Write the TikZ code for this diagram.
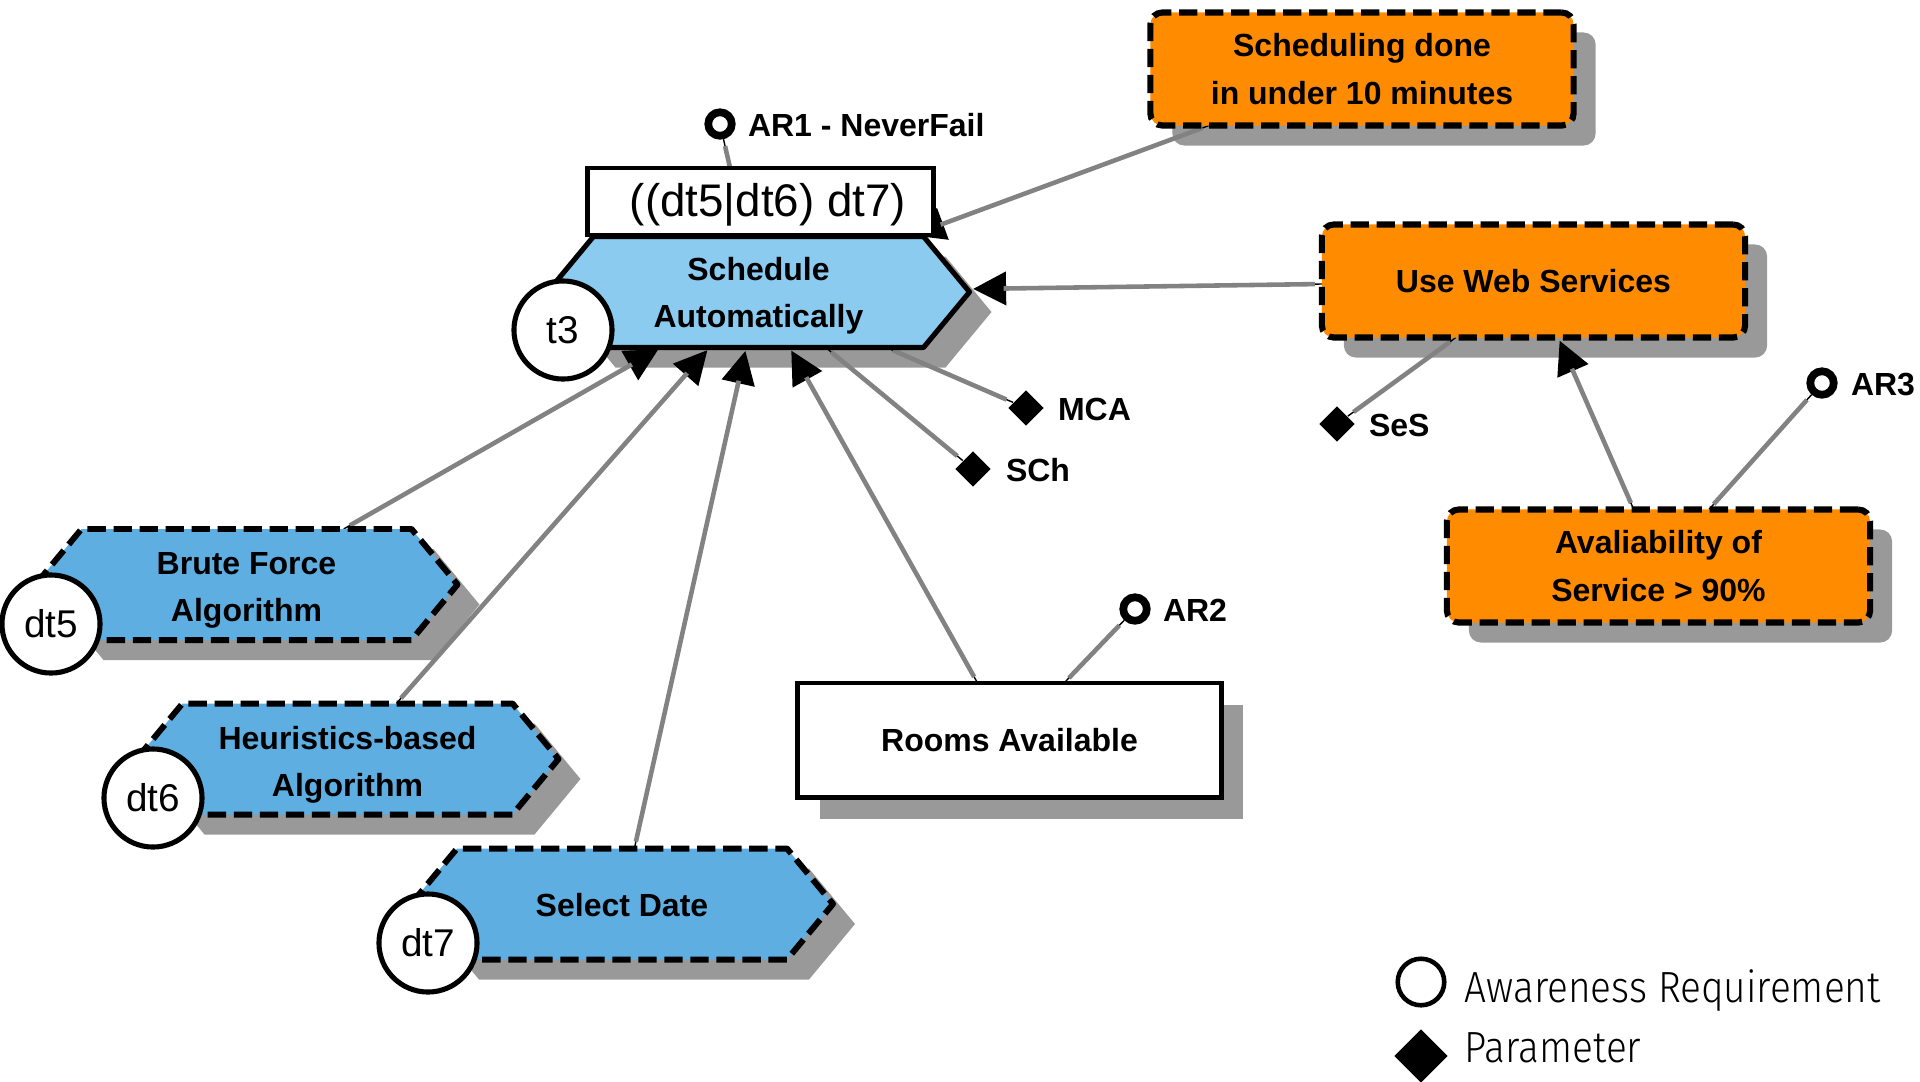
\documentclass[tikz,border=0pt]{standalone}
\usepackage{fontspec}
\setmainfont{Liberation Sans}
\IfFontExistsTF{Fira Sans Light}
  {\newfontfamily\legendfont{Fira Sans Light}[FakeStretch=0.89]}
  {\newfontfamily\legendfont{Fira Sans}[FakeStretch=0.89]}
\usetikzlibrary{shapes.geometric, arrows.meta}

\pgfdeclarelayer{shadow}
\pgfdeclarelayer{links}
\pgfdeclarelayer{shapes}
\pgfsetlayers{shadow,links,shapes,main}

\definecolor{taskblue}{RGB}{139,203,240}
\definecolor{dtblue}{RGB}{94,174,226}
\definecolor{goalorange}{RGB}{255,140,0}
\definecolor{shadowgray}{RGB}{153,153,153}
\definecolor{linkgray}{RGB}{130,130,130}

% horizontal hexagon (task shape) around a point, 422 x 111 units, 46 units deep tips
\newcommand\hexpath[1]{(#1) ++(-211,0) -- ++(46,-55.5) -- ++(330,0) -- ++(46,55.5) -- ++(-46,55.5) -- ++(-330,0) -- cycle}

\tikzset{
  txt/.style={font=\fontsize{9.1}{13.4}\selectfont\bfseries, align=center, inner sep=0pt, outer sep=0pt},
  softgoal/.style={txt, draw=black, line width=1.75pt, dash pattern=on 5.2pt off 2.2pt,
    fill=goalorange, rounded corners=0.12cm, minimum width=4.23cm, minimum height=1.13cm},
  plainbox/.style={txt, draw=black, line width=1.4pt, fill=white, minimum width=4.23cm, minimum height=1.14cm},
  formula/.style={draw=black, line width=1.4pt, fill=white, inner sep=0pt, outer sep=0pt,
    minimum width=3.45cm, minimum height=0.67cm},
  formulatext/.style={inner sep=0pt, font=\fontsize{13}{13}\selectfont},
  hexnode/.style={inner sep=0pt, outer sep=0pt, minimum width=4.22cm, minimum height=1.11cm},
  tasklook/.style={fill=taskblue, draw=black, line width=1.45pt, line join=round},
  dtlook/.style={fill=dtblue, draw=black, line width=1.7pt, line join=round, dash pattern=on 5.2pt off 2.2pt},
  tagcircle/.style={circle, draw=black, line width=1.45pt, fill=white, minimum size=0.98cm,
    inner sep=0pt, font=\fontsize{11}{11}\selectfont},
  arcircle/.style={circle, draw=black, line width=2.2pt, fill=white, minimum size=0.235cm, inner sep=0pt},
  param/.style={diamond, fill=black, minimum width=0.36cm, minimum height=0.36cm, inner sep=0pt},
  tag/.style={txt, anchor=west},
  legendtxt/.style={anchor=base west, inner sep=0pt, font=\legendfont\fontsize{12.4}{12.4}\selectfont},
  link/.style={draw=linkgray, line width=1.3pt, shorten <=0.07cm, shorten >=0.07cm,
    preaction={draw=black, shorten <=0pt, shorten >=0pt}},
  arrowlink/.style={draw=linkgray, line width=1.3pt, shorten <=0.07cm, shorten >=0.34cm,
    preaction={draw=black, shorten <=0pt, shorten >=0pt, -{Triangle[length=0.38cm,width=0.38cm]}}},
}

\begin{document}
\begin{tikzpicture}[x=0.01cm, y=-0.01cm]
\useasboundingbox (0,0) rectangle (1920,1081);

% tasks: outline frames (hexagons drawn on the shapes layer) and their texts
\node[hexnode] (sa) at (758.5,292) {};
\node[hexnode] (bf) at (246.5,584.5) {};
\node[hexnode] (hb) at (347.5,759) {};
\node[hexnode] (sd) at (622,904) {};
\node[txt] (satext) at (758.5,296) {Schedule\\Automatically};
\node[txt] (bftext) at (246.5,590) {Brute Force\\Algorithm};
\node[txt] (hbtext) at (347.5,765) {Heuristics-based\\Algorithm};
\node[txt] (sdtext) at (622,905.5) {Select Date};

% decomposition formula
\node[formula] (rx) at (760.5,201.5) {};
\node[formulatext] (rxtext) at (768,205) {((dt5|dt6) dt7)};

% task identifiers
\node[tagcircle] (t3) at (563,330) {t3};
\node[tagcircle] (dt5) at (51,624) {dt5};
\node[tagcircle] (dt6) at (153,798) {dt6};
\node[tagcircle] (dt7) at (428,943) {dt7};

% soft goals
\node[softgoal] (sdone) at (1362,69) {Scheduling done\\in under 10 minutes};
\node[softgoal] (uws) at (1533.5,281) {Use Web Services};
\node[softgoal] (avail) at (1658.5,566) {Avaliability of\\Service > 90\%};

% domain assumption
\node[plainbox] (rooms) at (1009.5,740) {Rooms Available};

% awareness requirements
\node[arcircle] (ar1) at (720,124) {};
\node[tag] (ar1l) at (748,125) {AR1 - NeverFail};
\node[arcircle] (ar2) at (1135,609) {};
\node[tag] (ar2l) at (1163,610) {AR2};
\node[arcircle] (ar3) at (1822,383) {};
\node[tag] (ar3l) at (1851,384) {AR3};

% parameters
\node[param] (mca) at (1026,408) {};
\node[tag] (mcal) at (1058,409) {MCA};
\node[param] (sch) at (973,469) {};
\node[tag] (schl) at (1006,470) {SCh};
\node[param] (ses) at (1337,424) {};
\node[tag] (sesl) at (1369,425) {SeS};

% legend
\node[arcircle, line width=1.3pt, minimum size=0.465cm] (lgar) at (1421,982) {};
\node[legendtxt] (lgarl) at (1464,1002) {Awareness Requirement};
\node[param, minimum width=0.54cm, minimum height=0.54cm] (lgpar) at (1421,1056) {};
\node[legendtxt] (lgparl) at (1464,1062) {Parameter};

% drop shadows
\begin{pgfonlayer}{shadow}
  \fill[shadowgray] \hexpath{[shift={(22,20)}]sa.center};
  \fill[shadowgray] \hexpath{[shift={(22,20)}]bf.center};
  \fill[shadowgray] \hexpath{[shift={(22,20)}]hb.center};
  \fill[shadowgray] \hexpath{[shift={(22,20)}]sd.center};
  \fill[shadowgray, rounded corners=0.12cm] ([shift={(22,20)}]sdone.north west) rectangle ([shift={(22,20)}]sdone.south east);
  \fill[shadowgray, rounded corners=0.12cm] ([shift={(22,20)}]uws.north west) rectangle ([shift={(22,20)}]uws.south east);
  \fill[shadowgray, rounded corners=0.12cm] ([shift={(22,20)}]avail.north west) rectangle ([shift={(22,20)}]avail.south east);
  \fill[shadowgray] ([shift={(22,22)}]rooms.north west) rectangle ([shift={(22,22)}]rooms.south east);
\end{pgfonlayer}

% task outlines
\begin{pgfonlayer}{shapes}
  \path[tasklook] \hexpath{sa};
  \path[dtlook] \hexpath{bf};
  \path[dtlook] \hexpath{hb};
  \path[dtlook] \hexpath{sd};
\end{pgfonlayer}

% connectors
\begin{pgfonlayer}{links}
  \draw[arrowlink] (bf) -- (sa);
  \draw[arrowlink] (hb) -- (sa);
  \draw[arrowlink] (sd) -- (sa);
  \draw[arrowlink] (rooms) -- (sa);
  \draw[arrowlink] (uws) -- (sa);
  \draw[arrowlink] (sdone) -- (sa);
  \draw[arrowlink] (avail) -- (uws);
  \draw[link] (ar1) -- (sa);
  \draw[link] (sa) -- (mca);
  \draw[link] (sa) -- (sch);
  \draw[link] (ses) -- (uws);
  \draw[link] (ar2) -- (rooms);
  \draw[link] (ar3) -- (avail);
\end{pgfonlayer}
\end{tikzpicture}
\end{document}
